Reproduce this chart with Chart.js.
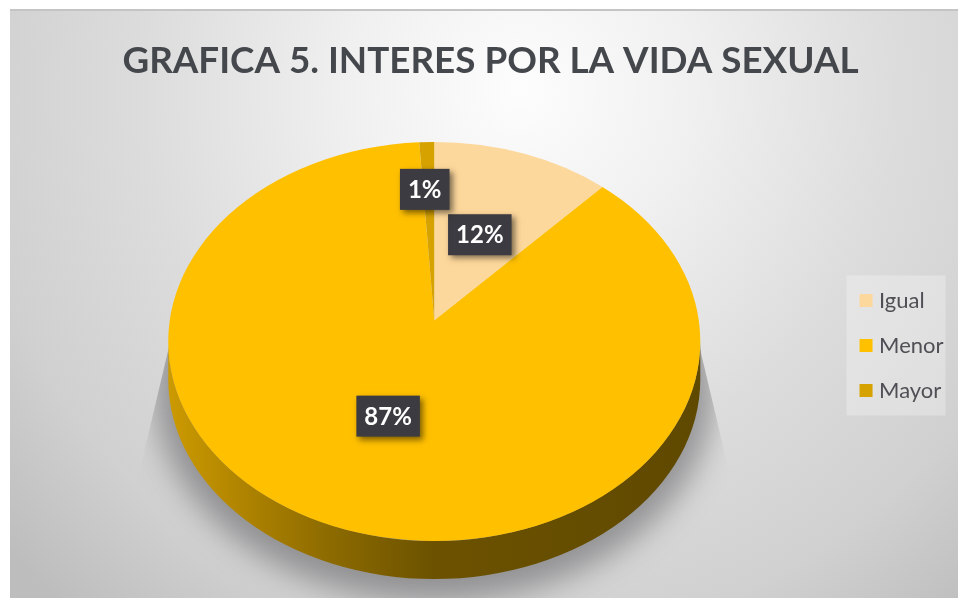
<!DOCTYPE html>
<html>
<head>
<meta charset="utf-8">
<title>Interes por la vida sexual</title>
<script src="https://cdn.jsdelivr.net/npm/chart.js@4"></script>
<style>
html, body { margin: 0; padding: 0; background: #fff; }
canvas { display: block; }
</style>
</head>
<body>
<canvas id="chart" width="958" height="598"></canvas>
<script>
const titleText = 'GRAFICA 5. INTERES POR LA VIDA SEXUAL';
const categories = ['Igual', 'Menor', 'Mayor'];
const percentages = [12, 87, 1];
const sliceColors = ['#FDD89C', '#FFC000', '#D6A200'];

// Radial position of each value tag inside its slice, plus a sideways nudge.
const tagRadius = [0.49, 0.49, 0.715];
const tagNudge = [0, 0, -4];

// Perspective of the tilted disc.
const TILT_X = 4 / 3;      // horizontal stretch of the ellipse
const TILT_SHIFT = 0.105;  // how far the apex sits above the ellipse centre
const DEPTH = 38;          // height of the side wall in px
const LEGEND_DROP = 4;     // legend sits slightly below the disc centre

// Projects a point of the unit disc (angle clockwise from 12 o'clock) onto the ellipse.
function project(theta, r) {
  const s = Math.sin(theta) * r, c = Math.cos(theta) * r;
  const d = 1 + TILT_SHIFT * c;
  return {
    x: s * Math.sqrt(1 - TILT_SHIFT * TILT_SHIFT) / d,
    y: (c + TILT_SHIFT) / d
  };
}

function drawTiltedSlice(ctx) {
  const R = this.outerRadius, rx = R * TILT_X;
  const a0 = this.startAngle + Math.PI / 2, a1 = this.endAngle + Math.PI / 2;
  const p0 = project(a0, 1), p1 = project(a1, 1), apex = project(0, 0);
  ctx.save();
  ctx.beginPath();
  ctx.moveTo(this.x + apex.x * rx, this.y - apex.y * R);
  ctx.ellipse(this.x, this.y, rx, R, 0, Math.atan2(-p0.y, p0.x), Math.atan2(-p1.y, p1.x));
  ctx.closePath();
  ctx.fillStyle = this.options.backgroundColor;
  ctx.fill();
  ctx.restore();
}

const tiltedPie = {
  id: 'tiltedPie',
  afterLayout(chart) {
    chart.legend.top += LEGEND_DROP;
    chart.legend.bottom += LEGEND_DROP;
  },
  beforeDraw(chart) {
    const { ctx, width, height, legend } = chart;
    ctx.save();
    const g = ctx.createRadialGradient(520, 90, 0, 520, 90, 690);
    g.addColorStop(0, '#fdfdfd');
    g.addColorStop(0.25, '#f0f0f0');
    g.addColorStop(0.55, '#dcdcdc');
    g.addColorStop(0.8, '#d0d0d0');
    g.addColorStop(1, '#bdbdbd');
    ctx.fillStyle = g;
    ctx.fillRect(10, 10, width - 10, height - 10);
    ctx.fillStyle = '#c4c4c4';
    ctx.fillRect(10, 9, width - 10, 2);

    // Pale panel behind the legend entries.
    const midY = (legend.top + legend.bottom) / 2;
    ctx.fillStyle = 'rgba(255,255,255,0.28)';
    ctx.fillRect(legend.left + 5.5, midY - 70, 99, 140);
    ctx.restore();
  },
  afterDatasetsUpdate(chart) {
    chart.getDatasetMeta(0).data.forEach(arc => { arc.draw = drawTiltedSlice; });
  },
  beforeDatasetsDraw(chart) {
    const { ctx } = chart;
    const arc = chart.getDatasetMeta(0).data[0];
    const R = arc.outerRadius, rx = R * TILT_X;

    // Soft cast shadow under the disc.
    ctx.save();
    ctx.beginPath();
    ctx.moveTo(arc.x - rx + 2, arc.y);
    ctx.lineTo(arc.x + rx - 2, arc.y);
    ctx.lineTo(arc.x + rx + 24, arc.y + 110);
    ctx.lineTo(arc.x + rx + 60, chart.height);
    ctx.lineTo(arc.x - rx - 60, chart.height);
    ctx.lineTo(arc.x - rx - 24, arc.y + 110);
    ctx.closePath();
    ctx.clip();
    ctx.filter = 'blur(15px)';
    ctx.fillStyle = 'rgba(85,85,88,0.52)';
    ctx.beginPath();
    ctx.ellipse(arc.x, arc.y + DEPTH + 8, rx + 14, R + 14, 0, 0, Math.PI * 2);
    ctx.fill();
    ctx.restore();

    // Side wall of the disc.
    ctx.save();
    const wall = ctx.createLinearGradient(arc.x - rx, 0, arc.x + rx, 0);
    wall.addColorStop(0, '#cc9a00');
    wall.addColorStop(0.15, '#ad8200');
    wall.addColorStop(0.3, '#8d6b00');
    wall.addColorStop(0.5, '#6c5200');
    wall.addColorStop(1, '#5f4900');
    ctx.fillStyle = wall;
    ctx.beginPath();
    ctx.ellipse(arc.x, arc.y + DEPTH, rx, R, 0, 0, Math.PI);
    ctx.ellipse(arc.x, arc.y, rx, R, 0, Math.PI, 0, true);
    ctx.closePath();
    ctx.fill();
    ctx.restore();
  },
  afterDatasetsDraw(chart) {
    const { ctx } = chart;
    const arcs = chart.getDatasetMeta(0).data;
    ctx.save();
    ctx.font = 'bold 24px Lato';
    ctx.textAlign = 'center';
    ctx.textBaseline = 'middle';
    arcs.forEach((arc, i) => {
      const R = arc.outerRadius, rx = R * TILT_X;
      const mid = (arc.startAngle + arc.endAngle) / 2 + Math.PI / 2;
      const p = project(mid, tagRadius[i]);
      const cx = arc.x + p.x * rx + tagNudge[i];
      const cy = arc.y - p.y * R;
      const text = percentages[i] + '%';
      const w = ctx.measureText(text).width + 16;
      const h = 41;
      ctx.save();
      ctx.shadowColor = 'rgba(0,0,0,0.5)';
      ctx.shadowBlur = 6;
      ctx.shadowOffsetX = 3;
      ctx.shadowOffsetY = 3;
      ctx.fillStyle = '#3b3b41';
      ctx.fillRect(cx - w / 2, cy - h / 2, w, h);
      ctx.restore();
      ctx.fillStyle = '#ffffff';
      ctx.fillText(text, cx, cy + 1);
    });
    ctx.restore();
  }
};

// Legend swatches: a thin box with a thick matching outline keeps the text close to the square.
function legendItems(chart) {
  return Chart.overrides.pie.plugins.legend.labels.generateLabels(chart).map(item => ({
    ...item,
    strokeStyle: item.fillStyle,
    lineWidth: 9
  }));
}

new Chart(document.getElementById('chart'), {
  type: 'pie',
  data: {
    labels: categories,
    datasets: [{
      data: percentages,
      backgroundColor: sliceColors,
      borderWidth: 0
    }]
  },
  plugins: [tiltedPie],
  options: {
    responsive: false,
    animation: false,
    layout: { padding: { left: 27.5, right: 4.5, top: 0, bottom: 57 } },
    plugins: {
      tooltip: { enabled: false },
      title: {
        display: true,
        text: titleText,
        color: '#44474c',
        font: { family: 'Lato', size: 36.8, weight: 'bold' },
        padding: { top: 39, bottom: 58.8 }
      },
      legend: {
        position: 'right',
        fullSize: false,
        maxWidth: 113,
        labels: {
          color: '#4f5055',
          font: { family: 'Lato', size: 22 },
          boxWidth: 4,
          boxHeight: 4,
          padding: 23,
          generateLabels: legendItems
        }
      }
    }
  }
});
</script>
</body>
</html>
